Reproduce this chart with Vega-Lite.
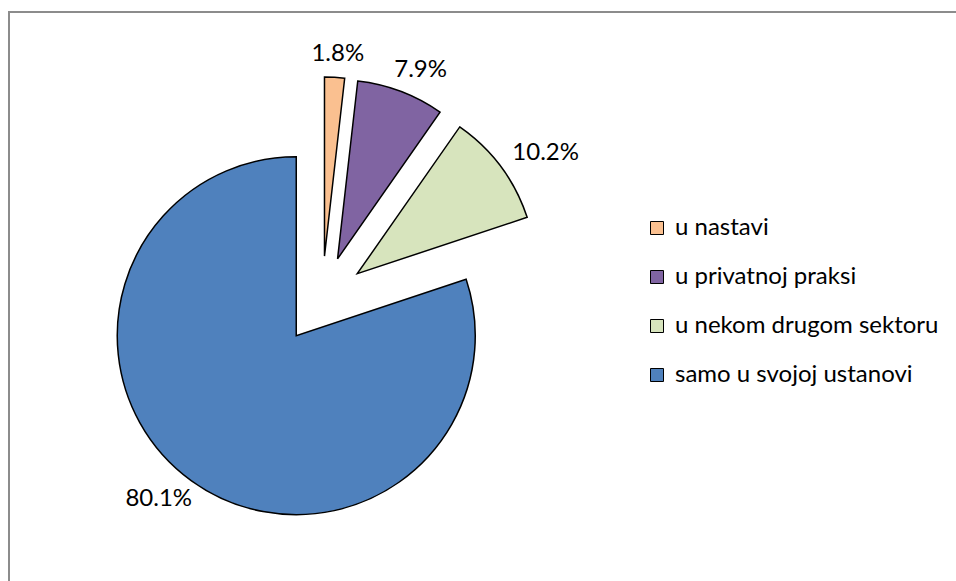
{
  "$schema": "https://vega.github.io/schema/vega-lite/v6.json",
  "autosize": {"type": "none"},
  "width": 959,
  "height": 576,
  "padding": {"left": 9, "top": 12, "right": -12, "bottom": -7},
  "background": "white",
  "config": {
    "view": {"stroke": null},
    "font": "Lato"
  },
  "data": {
    "values": [
      {"category": "u nastavi", "share": 0.018},
      {"category": "u privatnoj praksi", "share": 0.079},
      {"category": "u nekom drugom sektoru", "share": 0.102},
      {"category": "samo u svojoj ustanovi", "share": 0.801}
    ]
  },
  "layer": [
    {
      "data": {"values": [{}]},
      "mark": {"type": "rect", "fill": null, "stroke": "#8c8c8c", "strokeWidth": 2},
      "encoding": {}
    },
    {
      "mark": {
        "type": "arc",
        "outerRadius": 179,
        "stroke": "black",
        "strokeWidth": 1.5,
        "x": {"expr": "313 + 44*sin(scale('theta', (datum.share_start + datum.share_end)/2))"},
        "y": {"expr": "288 - 44*cos(scale('theta', (datum.share_start + datum.share_end)/2))"}
      },
      "encoding": {
        "theta": {"field": "share", "type": "quantitative", "stack": true},
        "order": {"field": "share", "type": "quantitative", "sort": "ascending"},
        "color": {
          "field": "category",
          "type": "nominal",
          "scale": {
            "domain": ["u nastavi", "u privatnoj praksi", "u nekom drugom sektoru", "samo u svojoj ustanovi"],
            "range": ["#FAC090", "#8064A2", "#D7E4BD", "#4F81BD"]
          },
          "legend": {
            "orient": "none",
            "legendX": 636,
            "legendY": 204,
            "title": null,
            "symbolType": "square",
            "symbolSize": 169,
            "symbolStrokeColor": "black",
            "symbolStrokeWidth": 1,
            "labelFont": "Lato",
            "labelFontSize": 24,
            "labelColor": "black",
            "labelOffset": 6,
            "labelLimit": 0,
            "rowPadding": 25,
            "padding": 0
          }
        }
      }
    },
    {
      "mark": {
        "type": "text",
        "radius": 202,
        "fontSize": 24,
        "font": "Lato",
        "align": "center",
        "baseline": "middle",
        "x": {"expr": "313 + 77*sin(scale('theta', (datum.share_start + datum.share_end)/2))"},
        "y": {"expr": "288 - 44*cos(scale('theta', (datum.share_start + datum.share_end)/2))"}
      },
      "encoding": {
        "theta": {"field": "share", "type": "quantitative", "stack": true},
        "order": {"field": "share", "type": "quantitative", "sort": "ascending"},
        "text": {"field": "share", "type": "quantitative", "format": ".1%"},
        "color": {"value": "black"}
      }
    }
  ]
}
